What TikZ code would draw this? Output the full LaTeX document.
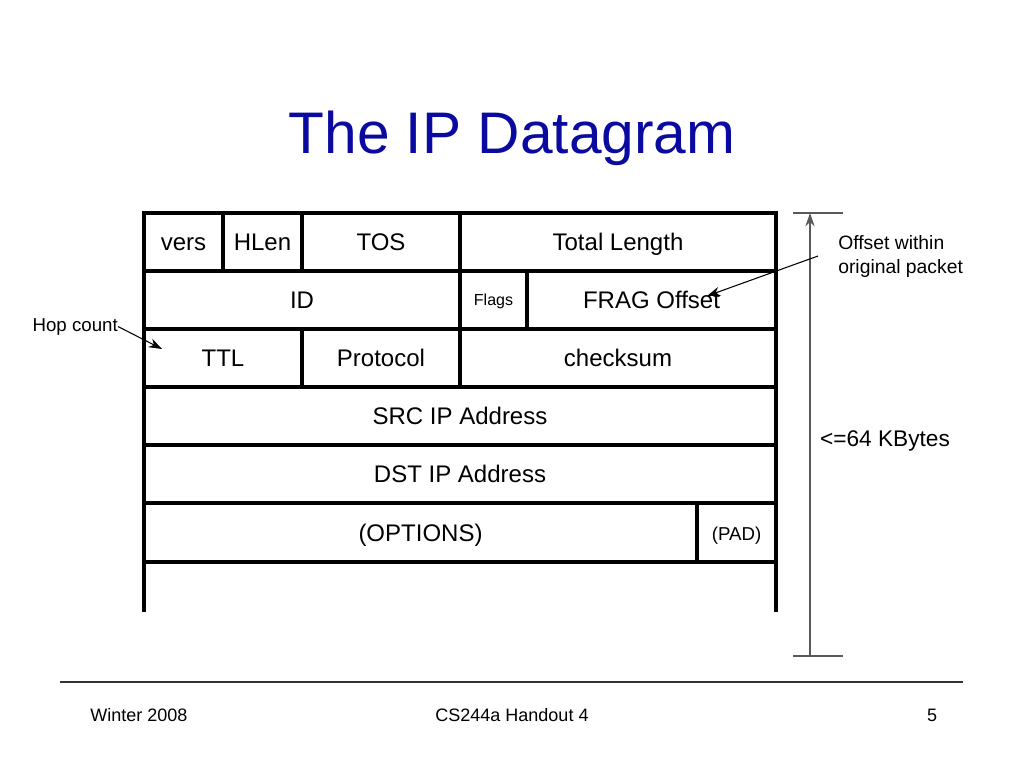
\documentclass[tikz,border=0pt]{standalone}
\usepackage{fontspec}
\setmainfont{Liberation Sans}
\usetikzlibrary{arrows.meta}
\definecolor{titleblue}{RGB}{10,10,160}
\tikzset{
  frame/.style={line width=2.8pt},
  label/.style={font=\fontsize{18}{20}\selectfont, inner sep=0pt, anchor=base},
  small/.style={font=\fontsize{12}{14}\selectfont, inner sep=0pt, anchor=base},
  note/.style={font=\fontsize{14}{17}\selectfont, inner sep=0pt},
  pointer/.style={line width=0.8pt, -{Stealth[length=10pt,width=7pt]}},
  dim/.style={line width=1pt, black!65},
  foot/.style={font=\fontsize{13.5}{15}\selectfont, inner sep=0pt, anchor=base}
}
\begin{document}
\begin{tikzpicture}[x=0.75pt,y=-0.75pt]
  \useasboundingbox (0,0) rectangle (1024,768);
  \node (title) at (512,153) [anchor=base, inner sep=0pt, text=titleblue, font=\fontsize{44}{50}\selectfont] {The IP Datagram};

  % the header box
  \draw[frame] (144,612) -- (144,213) -- (776,213) -- (776,612);
  \draw[frame] (144,271) -- (776,271);
  \draw[frame] (144,329) -- (776,329);
  \draw[frame] (144,387) -- (776,387);
  \draw[frame] (144,445) -- (776,445);
  \draw[frame] (144,503) -- (776,503);
  \draw[frame] (144,562) -- (776,562);
  \draw[frame] (223,213) -- (223,271);
  \draw[frame] (302,213) -- (302,271);
  \draw[frame] (460,213) -- (460,387);
  \draw[frame] (527,271) -- (527,329);
  \draw[frame] (302,329) -- (302,387);
  \draw[frame] (697,503) -- (697,562);

  \node[label] (vers) at (183.5,250) {vers};
  \node[label] (hlen) at (262.5,250) {HLen};
  \node[label] (tos) at (381,250) {TOS};
  \node[label] (totlen) at (618,250) {Total Length};
  \node[label] (id) at (302,308) {ID};
  \node[small] (flags) at (493.5,305) {Flags};
  \node[label] (frag) at (651.5,308) {FRAG Offset};
  \node[label] (ttl) at (223,366) {TTL};
  \node[label] (proto) at (381,366) {Protocol};
  \node[label] (csum) at (618,366) {checksum};
  \node[label] (src) at (460,424) {SRC IP Address};
  \node[label] (dst) at (460,482) {DST IP Address};
  \node[label] (opts) at (420.5,541) {(OPTIONS)};
  \node[small, font=\fontsize{14}{16}\selectfont] (pad) at (736.5,540) {(PAD)};

  % length of the datagram
  \draw[dim] (793,213) -- (843,213);
  \draw[dim] (793,656) -- (843,656);
  \draw[dim, -{Stealth[length=10pt,width=7pt]}] (810,656) -- (810,213);
  \node[note, anchor=base, font=\fontsize{17}{20}\selectfont] (size) at (885,446) {<=64 KBytes};

  % remarks
  \node[note, anchor=base east] (hop) at (118,331) {Hop count};
  \coordinate (hoptip) at (162,349);
  \draw[pointer] (hop.east) -- (hoptip);
  \node[note, align=left, anchor=west, font=\fontsize{14.5}{18}\selectfont] (offset) at (838,256) {Offset within\\original packet};
  \coordinate (fragtip) at (707,296);
  \draw[pointer] (offset.west) ++(-20,0) coordinate (offstart) -- (fragtip);

  % footer
  \draw[line width=0.8pt, black!80] (60,682) -- (963,682);
  \node[foot] (season) at (139,721) {Winter 2008};
  \node[foot] (course) at (512,721) {CS244a Handout 4};
  \node[foot] (page) at (932,721) {5};
\end{tikzpicture}
\end{document}
